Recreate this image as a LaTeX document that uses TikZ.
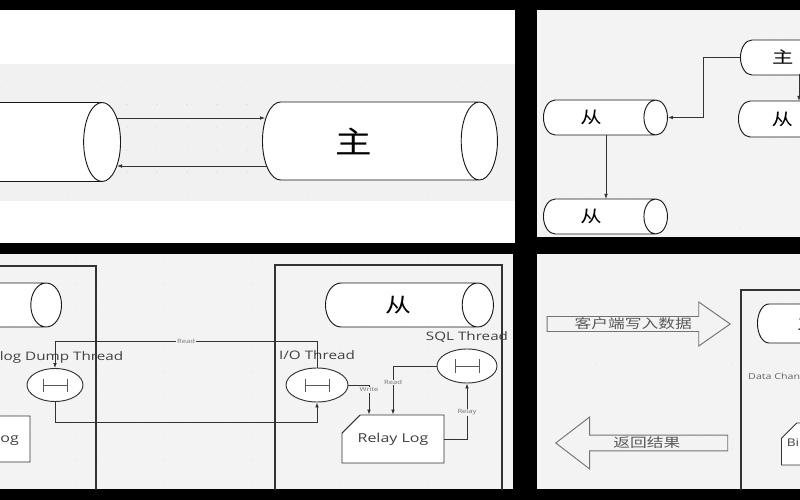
\documentclass[tikz,border=0pt]{standalone}
\usepackage{graphicx}
\usepackage{fontspec}
\setmainfont{Open Sans}
\newfontfamily\cjk{Noto Sans CJK SC}
\usetikzlibrary{arrows.meta,positioning,shapes.geometric,shapes.misc,shapes.arrows}

\definecolor{panelgray}{HTML}{F3F3F3}
\definecolor{bandgray}{HTML}{F1F1F2}
\definecolor{dotgray}{HTML}{C4C4C4}
\definecolor{inkgray}{HTML}{333333}
\newcommand\wide[2][1.3]{\scalebox{#1}[1]{#2}}

\tikzset{
  cyl/.style={cylinder, draw=black!90, fill=white, line width=0.8pt, inner sep=0pt},
  thread/.style={ellipse, draw=inkgray, fill=white, line width=0.8pt, inner sep=0pt},
  logbox/.style={chamfered rectangle, chamfered rectangle corners=north west, draw=inkgray,
    fill=white, line width=0.8pt, inner sep=0pt, font=\fontsize{10.5}{12}\selectfont, text=black!75},
  box/.style={draw=inkgray, line width=0.9pt},
  arr/.style={draw=inkgray, line width=0.7pt, -{Latex[length=1.5mm,width=1.1mm]}},
  tag/.style={font=\fontsize{5}{5}\selectfont, fill=panelgray, inner sep=0.6pt, text=black!55},
  lbl/.style={font=\fontsize{10}{11}\selectfont, inner sep=0pt, text=black!75},
  blockarr/.style={single arrow, draw=black!55, fill=panelgray, line width=0.8pt, inner sep=0pt,
    font=\cjk\fontsize{11}{12}\selectfont, text=black!65},
  hbar/.style={draw=black!65, line width=0.6pt},
}

\begin{document}
\begin{tikzpicture}[x=0.3mm,y=-0.3mm]
\fill[black] (0,0) rectangle (800,500);
\useasboundingbox (0,0) rectangle (800,500);

% top left: one slave, one master
\begin{scope}
\clip (0,10) rectangle (515,243);
\fill[white] (0,10) rectangle (515,243);
\fill[bandgray] (0,64) rectangle (515,201);
\foreach \x in {7,37,...,515} \foreach \y in {82,104.6,...,200} \fill[dotgray] (\x,\y) circle (0.4pt);
\node[cyl, anchor=east, minimum height=81mm, minimum width=23.7mm, shape aspect=1.35,
  font=\cjk\fontsize{26}{26}\selectfont] (s1) at (121,142) {\wide[1.2]{从}};
\node[cyl, anchor=west, minimum height=70.5mm, minimum width=23.4mm, shape aspect=1.35,
  font=\cjk\fontsize{26}{26}\selectfont] (m1) at (262,141) {\wide[1.2]{主}\hspace{10mm}\null};
\draw[arr] ([shift={(-4,-24)}]s1.east) -- ([shift={(3,-23)}]m1.west);
\draw[arr] ([shift={(5,25)}]m1.west) -- ([shift={(-4,24)}]s1.east);
\end{scope}

% top right: cascade of slaves
\begin{scope}
\clip (537,10) rectangle (800,237);
\fill[panelgray] (537,10) rectangle (800,237);
\foreach \x in {545,560,...,800} \foreach \y in {18,33,...,237} \fill[dotgray!70] (\x,\y) circle (0.3pt);
\node[cyl, anchor=west, minimum height=29mm, minimum width=10.5mm, shape aspect=1.6,
  font=\cjk\fontsize{14}{14}\selectfont] (m2) at (740,57.5) {\wide{主}};
\node[cyl, anchor=west, minimum height=30mm, minimum width=10.8mm, shape aspect=1.6,
  font=\cjk\fontsize{14}{14}\selectfont] (s2a) at (738,119) {\wide{从}};
\node[cyl, anchor=west, minimum height=37.2mm, minimum width=10.5mm, shape aspect=1.6,
  font=\cjk\fontsize{14}{14}\selectfont] (s2b) at (543,117.5) {\wide{从}\hspace{5mm}\null};
\node[cyl, anchor=west, minimum height=37.2mm, minimum width=10.5mm, shape aspect=1.6,
  font=\cjk\fontsize{14}{14}\selectfont] (s2c) at (543,216.5) {\wide{从}\hspace{5mm}\null};
\draw[arr] (m2.west) -- ++(-37,0) |- (s2b.east);
\draw[arr] ([shift={(59,17)}]m2.west) -- ([shift={(61,-18)}]s2a.west);
\draw[arr] ([shift={(63,17.5)}]s2b.west) -- ([shift={(63,-17.5)}]s2c.west);
\end{scope}

% bottom left: replication threads
\begin{scope}
\clip (0,254) rectangle (513,489);
\fill[panelgray] (0,254) rectangle (513,489);
\foreach \x in {10,32,...,513} \foreach \y in {262,284,...,489} \fill[dotgray] (\x,\y) circle (0.35pt);
\draw[box] (-10,266) rectangle (96,500);
\draw[box] (275,265) rectangle (502,500);
\node[cyl, anchor=east, minimum height=45mm, minimum width=13.2mm, shape aspect=1.75,
  font=\cjk\fontsize{17}{17}\selectfont] (s3m) at (62,305) {\wide{主}\hspace{14mm}\null};
\node[cyl, anchor=west, minimum height=50.4mm, minimum width=13.2mm, shape aspect=1.75,
  font=\cjk\fontsize{17}{17}\selectfont] (s3s) at (325,305) {\wide{从}\hspace{2mm}\null};
\node[thread, minimum width=16.8mm, minimum height=9.9mm] (dump) at (55,385) {};
\node[thread, minimum width=18.6mm, minimum height=10.2mm] (io) at (317,385) {};
\node[thread, minimum width=18mm, minimum height=10.2mm] (sql) at (467,366) {};
\foreach \t in {dump,io,sql}
  \draw[hbar] ([shift={(-12,-6.5)}]\t.center) -- ++(0,13) ([shift={(12,-6.5)}]\t.center) -- ++(0,13)
    ([shift={(-12,0)}]\t.center) -- ++(24,0);
\node[lbl, above=1.2mm of dump, xshift=-1.5mm] (dumplbl) {\wide{Binlog Dump Thread}};
\node[lbl, above=2.2mm of io] (iolbl) {\wide{I/O Thread}};
\node[lbl, above=1.6mm of sql] (sqllbl) {\wide{SQL Thread}};
\node[logbox, minimum width=20.7mm, minimum height=13.8mm] (binlog) at (-4.5,439) {\wide{Binlog}};
\node[logbox, minimum width=30.6mm, minimum height=14.4mm,
  chamfered rectangle xsep=7.2mm, chamfered rectangle ysep=3.6mm] (relay) at (393,439) {\wide{Relay Log}};
\draw[arr] (io.north) -- ++(0,-26) -| node[tag, pos=0.25] {\wide{Read}} (dump.north);
\draw[arr] (dump.south) -- ++(0,20) -| (io.south);
\draw[arr] (io.east) -| node[tag, pos=0.58] {\wide{Write}} ([xshift=-7.2mm]relay.north);
\draw[arr] (sql.west) -| node[tag, pos=0.67] {\wide{Read}} (relay.north);
\draw[arr] (relay.east) -| node[tag, pos=0.74] {\wide{Relay}} (sql.south);
\end{scope}

% bottom right: client write and result
\begin{scope}
\clip (537,254) rectangle (800,489);
\fill[panelgray] (537,254) rectangle (800,489);
\foreach \x in {545,562,...,800} \foreach \y in {262,279,...,489} \fill[dotgray!70] (\x,\y) circle (0.3pt);
\draw[box] (741,290) rectangle (810,500);
\node[blockarr, anchor=tip, minimum height=54.9mm, minimum width=13.2mm,
  single arrow head extend=3.75mm, single arrow tip angle=70] (clientw) at (731,324) {\wide{客户端写入数据}};
\node[blockarr, anchor=tip, shape border rotate=180, minimum height=51.6mm, minimum width=15.6mm,
  single arrow head extend=4.35mm, single arrow tip angle=75] (result) at (555,443) {\wide{返回结果}};
\node[cyl, anchor=west, minimum height=34mm, minimum width=11.7mm, shape aspect=1.6,
  font=\cjk\fontsize{14}{14}\selectfont] (m4) at (757,323.5) {\wide{主}};
\node[anchor=west, inner sep=0pt, font=\fontsize{7}{8}\selectfont, text=black!60] (dchg) at (748,377) {\wide{Data Changes}};
\node[logbox, anchor=west, minimum width=15mm, minimum height=12.6mm, font=\fontsize{9}{10}\selectfont,
  chamfered rectangle xsep=5.4mm, chamfered rectangle ysep=3mm] (bl4) at (781,444) {\wide{Binlog}};
\end{scope}
\end{tikzpicture}
\end{document}
